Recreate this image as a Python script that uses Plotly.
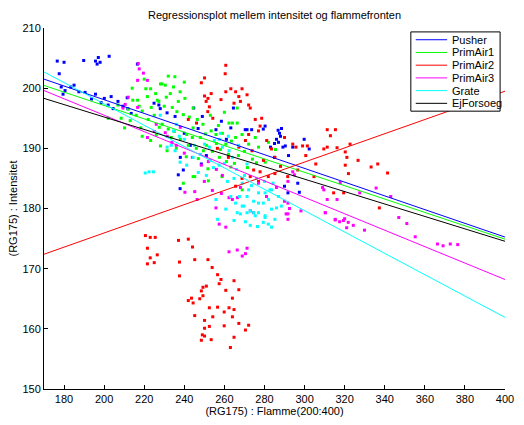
import plotly.graph_objects as go

# ---------------- data ----------------
series_names = ["Pusher", "PrimAir1", "PrimAir2", "PrimAir3", "Grate", "EjForsoeg"]
series_colors = ["#0000ff", "#00ff00", "#ff0000", "#ff00ff", "#00ffff", "#000000"]

x_ticks = [180, 200, 220, 240, 260, 280, 300, 320, 340, 360, 380, 400]
y_ticks = [150, 160, 170, 180, 190, 200, 210]

# regression line end points (x = 170 and x = 400)
line_x = [170, 400]
pusher_line = [201.5, 175.25]
primair1_line = [200.45, 174.9]
primair2_line = [172.4, 199.5]
primair3_line = [199.6, 168.2]
grate_line = [202.7, 161.9]
ejforsoeg_line = [198.3, 174.55]

pusher_pts = [
    (176.6, 204.5), (180.0, 204.3), (189.8, 204.6), (195.7, 204.5), (197.1, 205.1), (202.5, 205.3),
    (177.6, 202.4), (196.5, 204.0), (198.0, 204.3),
    (178.6, 200.2), (180.5, 199.6), (183.4, 200.2), (187.4, 199.4), (193.7, 198.2), (195.7, 199.0),
    (200.1, 198.3), (202.0, 197.2), (204.5, 196.6), (206.9, 197.8), (209.4, 197.0), (211.8, 196.6),
    (179.5, 199.0), (185.0, 200.5), (190.5, 199.3), (198.5, 197.6), (203.5, 198.6), (213.5, 195.8),
    (216.6, 204.0), (211.5, 198.4), (224.9, 197.5), (227.3, 197.2), (228.0, 196.6), (231.4, 195.9),
    (235.4, 195.3), (244.7, 196.7), (249.0, 195.3), (264.5, 196.7), (263.2, 193.4), (271.3, 193.1),
    (246.9, 193.3), (237.0, 185.6), (237.9, 183.3), (239.5, 186.4), (248.5, 187.4), (251.0, 188.8),
    (255.8, 193.1), (240.0, 192.5), (243.0, 190.5), (238.0, 188.5), (258.5, 194.5), (261.0, 191.5),
    (286.8, 193.0), (287.5, 192.5), (288.0, 192.0), (286.0, 191.5), (285.0, 190.8), (287.0, 191.0),
    (283.0, 190.2), (288.5, 193.3), (279.4, 193.2), (280.3, 193.7), (270.4, 193.1), (273.6, 193.1),
    (299.8, 191.5), (302.3, 189.9), (296.6, 184.2), (297.4, 182.7), (291.7, 182.6), (290.0, 183.7),
    (289.2, 190.2), (290.4, 190.4), (294.1, 190.2), (285.0, 188.5), (292.0, 188.8),
]

primair1_pts = [
    (214.0, 200.0), (214.3, 198.0), (223.2, 199.9), (228.1, 200.7), (230.5, 200.5), (234.6, 200.2),
    (237.9, 199.4), (240.3, 198.3), (233.0, 199.1), (225.7, 199.1), (221.6, 198.6), (227.3, 197.8),
    (236.3, 196.1), (244.4, 193.4), (249.3, 194.0), (253.4, 192.9), (255.8, 192.3), (260.7, 190.7),
    (264.0, 194.2), (266.4, 194.2), (265.6, 191.8), (257.5, 188.5), (244.4, 185.3), (239.5, 184.2),
    (231.4, 189.6), (228.1, 190.4), (223.2, 191.3), (218.3, 193.4), (210.2, 193.4), (208.5, 195.0),
    (244.4, 196.7), (239.5, 195.6), (258.8, 185.3), (263.2, 186.9), (272.1, 190.7), (275.4, 191.8),
    (268.8, 192.3), (280.4, 187.7), (268.9, 183.1),
    (220.8, 199.9), (228.9, 200.7), (226.5, 198.0), (216.7, 198.0), (206.9, 197.2), (202.0, 195.0),
    (241.2, 192.3), (245.2, 185.3), (251.8, 186.6), (262.3, 194.2), (266.4, 196.7),
    (212.0, 196.5), (216.0, 195.5), (219.0, 196.2), (222.0, 194.8), (225.0, 195.5), (229.0, 194.0),
    (232.0, 193.2), (235.0, 192.8), (238.0, 191.5), (242.0, 190.5), (246.0, 190.0), (248.0, 191.8),
    (251.0, 190.5), (254.0, 189.5), (256.0, 190.8), (259.0, 192.5), (262.0, 189.0), (267.0, 188.8),
    (270.0, 189.5), (274.0, 188.2), (277.0, 190.2), (282.0, 191.0), (230.0, 197.0), (234.0, 196.8),
    (219.0, 192.0), (226.0, 192.2), (236.0, 190.0), (247.0, 188.3), (252.0, 184.6), (261.0, 187.8),
    (220.0, 201.5), (232.0, 202.0), (235.3, 201.9), (240.0, 201.0),
    (213.0, 194.6), (217.5, 197.0), (223.5, 196.8), (231.0, 198.5), (237.0, 197.8), (242.5, 195.2),
    (246.5, 194.8), (250.5, 192.4), (257.0, 193.8), (260.0, 196.0), (263.5, 191.2), (253.0, 195.5),
    (241.0, 188.6), (233.5, 191.8), (227.5, 193.5), (244.0, 191.8), (249.5, 189.6), (258.0, 189.8),
    (265.0, 187.5), (271.5, 186.8), (276.0, 187.6), (285.5, 189.8),
]

primair2_pts = [
    (260.7, 203.8), (260.4, 202.4), (250.1, 201.7), (248.5, 200.9), (250.1, 198.7), (251.8, 198.3),
    (253.4, 199.1), (250.9, 197.8), (252.5, 196.9), (251.7, 196.1), (254.2, 195.0), (260.7, 199.4),
    (263.2, 199.9), (265.6, 199.4), (267.2, 198.6), (268.8, 199.9), (268.0, 197.8), (272.1, 197.2),
    (258.3, 198.1), (264.8, 197.5), (242.0, 194.8), (246.1, 194.2), (278.6, 195.0), (277.8, 193.7),
    (272.1, 192.3), (270.5, 191.3), (273.8, 189.6), (267.2, 190.2),
    (271.3, 198.9), (272.9, 196.7), (275.4, 194.8), (277.0, 192.9), (281.1, 191.3), (283.5, 189.9),
    (285.2, 188.5), (290.0, 191.8), (294.1, 190.7), (295.7, 190.2), (299.0, 190.4), (301.4, 190.4),
    (300.6, 188.8), (296.6, 186.4), (305.6, 187.4), (304.7, 185.3), (311.3, 193.1), (315.4, 193.1),
    (312.9, 192.1), (309.6, 189.9), (311.3, 190.2), (316.2, 190.1), (320.3, 189.4), (321.1, 188.5),
    (322.7, 190.7), (320.3, 187.2), (326.7, 188.0), (321.9, 185.8), (333.2, 186.9), (336.5, 187.4),
    (341.4, 185.9), (337.3, 180.1), (319.5, 182.6), (314.5, 182.6), (274.6, 186.4), (277.8, 186.1),
    (281.9, 185.3), (285.2, 185.8), (272.9, 185.3), (277.0, 184.5), (291.6, 185.3), (265.6, 183.7),
    (268.8, 185.0), (279.5, 188.0), (288.0, 187.0), (262.0, 188.5), (256.5, 190.0),
    (220.6, 175.5), (223.0, 175.2), (225.5, 175.2), (221.6, 173.4), (223.0, 171.8), (225.0, 171.0),
    (226.5, 172.3), (221.6, 170.8),
    (237.1, 174.7), (242.0, 174.9), (244.1, 173.6), (237.6, 171.1), (237.6, 168.8), (245.2, 171.5),
    (251.8, 171.5), (253.9, 170.2), (256.6, 169.0), (258.3, 168.2), (257.4, 167.5), (264.8, 168.0),
    (267.2, 166.5), (260.7, 166.4), (249.3, 166.9), (248.5, 166.3), (251.0, 167.1), (247.7, 165.0),
    (243.6, 165.1), (242.0, 164.7), (244.4, 164.3), (249.3, 165.5), (252.5, 163.5), (256.6, 163.6),
    (262.3, 163.5), (264.8, 163.2), (264.0, 165.1), (259.9, 162.8), (245.2, 162.2), (250.1, 161.4),
    (254.2, 162.0), (267.2, 160.9), (272.1, 160.6), (270.5, 159.8), (252.5, 160.4), (250.1, 160.1),
    (249.0, 159.0), (250.1, 158.8), (248.5, 158.1), (253.4, 158.2), (259.9, 160.5), (264.8, 158.6),
    (264.0, 162.0), (263.0, 156.9),
]

primair3_pts = [
    (217.0, 204.1), (217.5, 203.2), (219.6, 202.5), (221.6, 201.3), (216.7, 201.3), (209.4, 196.7),
    (210.5, 197.3), (216.7, 196.8), (221.6, 191.8), (230.5, 192.6), (231.5, 192.0), (233.8, 191.0),
    (248.5, 187.2), (240.3, 182.7), (245.2, 182.8), (246.4, 181.5), (255.8, 180.1), (257.4, 177.4),
    (262.3, 181.8), (264.0, 181.5), (266.5, 181.8), (260.7, 176.9), (262.3, 172.8), (266.4, 173.1),
    (268.9, 172.1), (270.5, 172.5), (271.3, 173.4), (277.0, 184.2), (290.0, 181.2), (291.7, 179.1),
    (292.5, 180.0), (298.2, 179.6), (294.1, 186.1), (310.3, 179.3), (309.6, 183.1), (315.3, 178.1),
    (319.4, 178.0), (321.8, 177.7), (324.3, 177.2), (321.0, 176.8), (329.9, 176.4),
    (291.7, 184.5), (294.9, 185.6), (309.0, 183.5), (317.8, 184.3), (311.3, 181.5), (316.2, 181.5),
    (327.5, 182.6), (335.7, 183.4), (310.4, 179.3), (315.3, 178.2), (317.5, 177.8), (320.0, 178.3),
    (291.7, 180.9), (290.8, 179.1), (291.7, 178.2), (272.9, 179.6), (274.5, 179.3),
    (355.2, 175.3), (366.3, 174.1), (369.1, 173.8), (372.7, 174.1), (376.4, 174.0),
    (236.0, 190.5), (240.0, 189.2), (244.0, 188.5), (252.0, 187.8), (256.0, 186.5), (259.0, 185.5),
    (238.0, 193.5), (226.0, 194.0), (212.0, 198.5), (225.0, 192.8),
    (343.0, 182.0), (347.0, 178.5), (351.0, 177.5),
    (250.0, 184.5), (254.0, 183.0), (258.5, 182.5), (268.0, 183.5), (281.0, 182.0), (286.0, 183.5),
]

grate_pts = [
    (222.4, 186.1), (224.6, 186.1), (220.5, 185.9), (231.4, 190.2), (233.5, 190.5), (235.4, 189.6),
    (237.9, 187.7), (241.2, 187.2), (244.4, 188.5), (250.1, 190.7), (252.5, 190.2), (255.0, 191.3),
    (257.4, 191.5), (259.0, 190.2), (262.3, 189.6), (264.0, 188.5), (257.4, 187.2), (264.8, 185.0),
    (268.9, 184.2), (271.3, 182.0), (274.6, 181.2), (277.0, 180.9), (272.9, 179.6), (269.7, 180.4),
    (255.8, 181.5), (260.7, 179.9), (264.8, 178.0), (275.4, 178.8), (234.6, 192.9), (237.5, 192.0),
    (263.2, 182.0), (265.6, 180.9), (266.4, 179.3), (268.9, 180.4), (271.3, 179.3), (272.9, 177.2),
    (277.0, 179.3), (280.3, 178.8), (281.9, 177.4), (286.0, 180.1), (285.2, 178.2), (283.5, 176.9),
    (288.4, 180.4), (280.3, 182.6), (283.5, 183.1), (256.6, 178.2), (268.0, 179.1),
    (271.3, 187.4), (272.1, 183.1), (277.0, 182.6), (279.4, 180.9), (282.7, 183.1), (284.3, 184.2),
    (283.5, 179.9), (280.3, 178.5), (279.4, 177.7), (274.6, 179.3),
    (245.0, 190.5), (248.0, 189.0), (253.0, 188.0), (260.0, 187.5), (266.0, 186.5), (270.0, 185.5),
    (276.0, 185.0), (280.0, 184.5), (258.0, 192.5), (262.0, 192.0), (267.0, 190.5), (236.0, 194.0),
    (228.0, 195.5), (240.0, 191.5),
    (247.0, 186.0), (251.0, 185.5), (254.5, 186.8), (261.5, 184.5), (267.5, 182.0), (270.5, 177.8),
    (276.5, 177.0), (282.0, 181.5), (287.0, 182.0), (273.5, 183.8),
]

point_sets = [pusher_pts, primair1_pts, primair2_pts, primair3_pts, grate_pts]
line_sets = [pusher_line, primair1_line, primair2_line, primair3_line, grate_line, ejforsoeg_line]

# ---------------- figure ----------------
FONT = "Liberation Sans, Arial, Helvetica, sans-serif"
fig = go.Figure()

for name, color, pts in zip(series_names, series_colors, point_sets):
    fig.add_trace(go.Scatter(
        x=[p[0] for p in pts], y=[p[1] for p in pts], mode="markers",
        marker=dict(color=color, size=3, symbol="square", line=dict(width=0)),
        name=name, showlegend=False, hoverinfo="skip",
    ))

for name, color, ly in zip(series_names, series_colors, line_sets):
    fig.add_trace(go.Scatter(
        x=line_x, y=ly, mode="lines", line=dict(color=color, width=1),
        name=name, showlegend=False,
    ))

# plot area in pixels (for placing the MATLAB-style legend box)
L, R, T, B = 44, 10, 28, 28
W, H = 524, 425
pw, ph = W - L - R, H - T - B


def px(xpix):
    return (xpix - L) / pw


def py(ypix):
    return (H - B - ypix) / ph


shapes = [dict(type="rect", xref="paper", yref="paper",
               x0=px(418), x1=px(509), y0=py(113), y1=py(32),
               line=dict(color="black", width=1), fillcolor="white", layer="above")]
annotations = []
for i, (name, color) in enumerate(zip(series_names, series_colors)):
    yy = py(40 + 13 * i)
    shapes.append(dict(type="line", xref="paper", yref="paper",
                       x0=px(423), x1=px(455), y0=yy, y1=yy,
                       line=dict(color=color, width=1), layer="above"))
    annotations.append(dict(text=name, xref="paper", yref="paper", x=px(458), y=yy,
                            xanchor="left", yanchor="middle", showarrow=False,
                            font=dict(family=FONT, size=11, color="black")))

fig.update_layout(
    width=W, height=H,
    margin=dict(l=L, r=R, t=T, b=B),
    paper_bgcolor="white", plot_bgcolor="white",
    font=dict(family=FONT, size=11, color="black"),
    title=dict(text="Regressionsplot mellem intensitet og flammefronten",
               x=0.5, xref="paper", xanchor="center",
               y=1 - 15 / 425, yref="container", yanchor="middle",
               font=dict(family=FONT, size=11, color="black")),
    showlegend=False,
    shapes=shapes,
    annotations=annotations,
)

fig.update_xaxes(
    range=[170, 400], tickvals=x_ticks, ticktext=[str(v) for v in x_ticks],
    ticks="inside", ticklen=4, tickcolor="black", showline=True, linecolor="black",
    linewidth=1, showgrid=False, zeroline=False, mirror=False,
    title=dict(text="(RG175) : Flamme(200:400)", standoff=2,
               font=dict(family=FONT, size=11, color="black")),
    tickfont=dict(family=FONT, size=11, color="black"),
)
fig.update_yaxes(
    range=[150, 210], tickvals=y_ticks, ticktext=[str(v) for v in y_ticks],
    ticks="inside", ticklen=4, tickcolor="black", showline=True, linecolor="black",
    linewidth=1, showgrid=False, zeroline=False, mirror=False,
    title=dict(text="(RG175) : Intensitet", standoff=2,
               font=dict(family=FONT, size=11, color="black")),
    tickfont=dict(family=FONT, size=11, color="black"),
)

fig.write_html("out.html")
